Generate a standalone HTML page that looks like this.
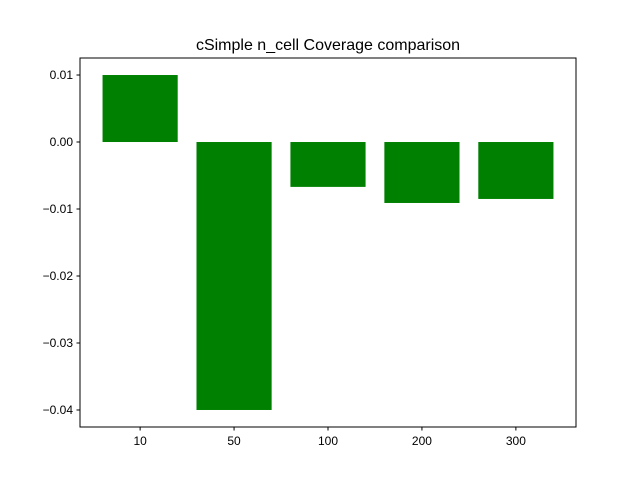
<!DOCTYPE html>
<html><head><meta charset="utf-8"><style>
body{margin:0;background:#fff;font-family:"Liberation Sans","DejaVu Sans",sans-serif;}
</style></head><body>
<svg id="chart" width="640" height="480" xmlns="http://www.w3.org/2000/svg">
<rect width="640" height="480" fill="#fff"/>
<text x="328" y="50" text-anchor="middle" font-size="16">cSimple n_cell Coverage comparison</text>
<g id="bars"></g>
<g id="axes"></g>
</svg>
<script>
const categories = ["10","50","100","200","300"];
const values = [0.01, -0.04, -0.0067, -0.0091, -0.0085];
const yTicks = [0.01, 0.00, -0.01, -0.02, -0.03, -0.04];
const yTickLabels = ["0.01","0.00","\u22120.01","\u22120.02","\u22120.03","\u22120.04"];

const L=80,R=576,T=58,B=427;
const yMin=-0.04254,yMax=0.01254;
const xMin=-0.64,xMax=categories.length-1+0.64;
const y=v=>T+(yMax-v)/(yMax-yMin)*(B-T);
const x=v=>L+(v-xMin)/(xMax-xMin)*(R-L);
const NS="http://www.w3.org/2000/svg";
const bars=document.getElementById('bars'), axes=document.getElementById('axes');
function mk(tag,attrs,parent){const e=document.createElementNS(NS,tag);for(const k in attrs)e.setAttribute(k,attrs[k]);parent.appendChild(e);return e;}
values.forEach((v,i)=>{
  const y0=y(0),y1=y(v);
  const r=mk('rect',{x:x(i-0.4),y:Math.min(y0,y1),width:x(i+0.4)-x(i-0.4),height:Math.abs(y1-y0),fill:'#008000'},bars);
  
  
});
const fr=mk('rect',{x:L,y:T,width:R-L,height:B-T,fill:'none',stroke:'#000','stroke-width':1},axes);


yTicks.forEach((t,i)=>{
  const yy=y(t);
  mk('line',{x1:L-3.5,x2:L,y1:yy,y2:yy,stroke:'#000'},axes);
  const tx=mk('text',{x:L-7,y:yy+4,'text-anchor':'end','font-size':12},axes);
  tx.textContent=yTickLabels[i];
  
  
});
categories.forEach((c,i)=>{
  const xx=x(i);
  mk('line',{x1:xx,x2:xx,y1:B,y2:B+3.5,stroke:'#000'},axes);
  const tx=mk('text',{x:xx,y:B+18,'text-anchor':'middle','font-size':12},axes);
  tx.textContent=c;
  
  
});
</script>
</body></html>
